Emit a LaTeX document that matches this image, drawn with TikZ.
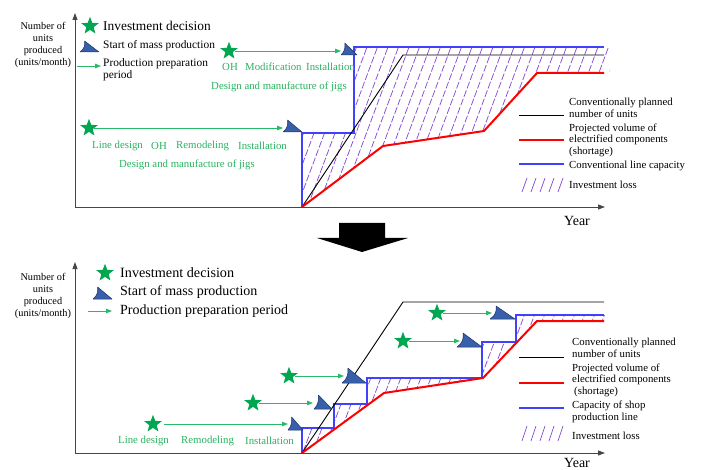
\documentclass[tikz,border=0pt]{standalone}
\usepackage{fontspec}
\setmainfont{Liberation Serif}
\usetikzlibrary{arrows.meta,shapes.geometric}
\definecolor{stargreen}{RGB}{0,166,80}
\definecolor{txtgreen}{RGB}{40,178,95}
\definecolor{arrgreen}{RGB}{40,185,105}
\definecolor{capblue}{RGB}{64,64,255}
\definecolor{mkfill}{RGB}{55,95,170}
\definecolor{mkline}{RGB}{30,50,110}
\definecolor{hatchc}{RGB}{135,75,215}
\definecolor{axisc}{RGB}{70,70,70}
\begin{document}
\begin{tikzpicture}[x=1pt,y=-1pt,
  axis/.style={draw=axisc, line width=0.9pt, -{Triangle[length=7pt,width=5pt]}},
  gstar/.style={star, star points=5, star point ratio=2.4, fill=stargreen, minimum size=18.5pt, inner sep=0pt},
  prep/.style={draw=arrgreen, line width=0.8pt, -{Triangle[length=6pt,width=4.5pt]}},
  gtext/.style={text=txtgreen, font=\fontsize{10.8}{13}\selectfont, anchor=west, inner sep=0pt},
  legtext/.style={font=\fontsize{10.8}{11.6}\selectfont, anchor=west, align=left, inner sep=0pt},
  ylab/.style={font=\fontsize{10.3}{12}\selectfont, align=center, inner sep=0pt},
  yeartext/.style={font=\fontsize{14}{16}\selectfont, inner sep=0pt},
  capline/.style={draw=capblue, line width=1.3pt},
  planline/.style={draw=black, line width=0.9pt},
  volline/.style={draw=red, line width=2pt},
  hatchline/.style={draw=hatchc, line width=0.75pt, dash pattern=on 7pt off 2pt},
  mkstyle/.style={fill=mkfill, draw=mkline, line width=0.5pt, line join=round},
  pics/mpm/.style 2 args={code={
    \filldraw[mkstyle] (0,0) .. controls (0.22*#1,-0.25*#2) and (0.28*#1,-0.65*#2) .. (0.24*#1,-#2) -- (#1,0) -- cycle;}}
]
\useasboundingbox (0,0) rectangle (706,470);

%================ TOP CHART =================
\begin{scope}
  \clip (302,207) -- (302,133) -- (354,133) -- (354,47) -- (610,47) -- (610,73) -- (537,73) -- (484,131) -- (383,146) -- cycle;
  \foreach \k in {0,...,46} {
    \draw[hatchline] (210+\k*10.5,215) -- ++(80,-215);
  }
\end{scope}
\draw[capline] (302,207) -- (302,133) -- (354,133) -- (354,47) -- (604,47);
\draw[planline] (302,207) -- (403,55) -- (604,55);
\draw[volline, line join=round] (302,207) -- (383,146) -- (484,131) -- (537,73) -- (604,73);
\coordinate (O1) at (75,207);
\coordinate (Y1) at (75,13);
\coordinate (X1) at (605,207);
\draw[axis] (O1) -- (Y1);
\draw[axis] (O1) -- (X1);
\node[yeartext] (year1) at (577,221) {Year};
\node[ylab] (ylab1) at (43,45) {Number of\\units\\produced\\(units/month)};

% legend (left)
\node[gstar] (ls1) at (90,26) {};
\node[legtext, font=\fontsize{13.4}{15}\selectfont] (lt1) at (103,26) {Investment decision};
\pic at (80,52) {mpm={19}{11}};
\node[legtext, font=\fontsize{11.4}{13}\selectfont] (lt2) at (103,46) {Start of mass production};
\coordinate (la1) at (77,66);
\coordinate (la2) at (101,66);
\draw[prep] (la1) -- (la2);
\node[legtext, font=\fontsize{11.4}{12}\selectfont] (lt3) at (103,70) {Production preparation\\period};

% upper investment
\node[gstar] (s2) at (229,51) {};
\coordinate (m2) at (341,51);
\draw[prep] (s2) -- (m2);
\pic at (341,55) {mpm={16}{12}};
\node[gtext] (g21) at (222,67) {OH};
\node[gtext] (g22) at (245,67) {Modification};
\node[gtext] (g23) at (306,67) {Installation};
\node[gtext] (g24) at (211,87) {Design and manufacture of jigs};

% lower investment
\node[gstar] (s1) at (89,128) {};
\coordinate (m1) at (283,128);
\draw[prep] (s1) -- (m1);
\pic at (283,132) {mpm={19}{12}};
\node[gtext] (g11) at (92,146) {Line design};
\node[gtext] (g12) at (151,146) {OH};
\node[gtext] (g13) at (176,146) {Remodeling};
\node[gtext] (g14) at (238,146) {Installation};
\node[gtext] (g15) at (119,165) {Design and manufacture of jigs};

% legend (right)
\draw[planline] (519,115) -- (564,115);
\node[legtext] (r1) at (569,108) {Conventionally planned\\number of units};
\draw[draw=red, line width=1.3pt] (519,140) -- (564,140);
\node[legtext] (r2) at (569,140) {Projected volume of\\electrified components\\(shortage)};
\draw[capline] (519,164) -- (564,164);
\node[legtext] (r3) at (569,166) {Conventional line capacity};
\foreach \k in {0,...,4} {\draw[draw=hatchc, line width=0.75pt] (522+\k*9,192) -- ++(5,-14);}
\node[legtext] (r4) at (569,185) {Investment loss};

%================ BIG ARROW =================
\fill[black] (339,223) -- (385,223) -- (385,238) -- (408,238) -- (362,252) -- (317,238) -- (339,238) -- cycle;

%================ BOTTOM CHART =================
\begin{scope}
  \clip (302,453) -- (302,428) -- (334,428) -- (334,404) -- (367,404) -- (367,378) -- (482,378) -- (482,342) -- (516,342) -- (516,315) -- (606,315) -- (606,321) -- (537,321) -- (483,378) -- (384,393) -- cycle;
  \foreach \k in {0,...,40} {
    \draw[hatchline] (240+\k*10,460) -- ++(62,-165);
  }
\end{scope}
\draw[capline] (302,453) -- (302,428) -- (334,428) -- (334,404) -- (367,404) -- (367,378) -- (482,378) -- (482,342) -- (516,342) -- (516,315) -- (604,315);
\draw[planline] (302,453) -- (403,302) -- (604,302);
\draw[volline, line join=round] (302,453) -- (384,393) -- (483,378) -- (537,321) -- (604,321);

\coordinate (O2) at (75,453);
\coordinate (Y2) at (75,262);
\coordinate (X2) at (605,453);
\draw[axis] (O2) -- (Y2);
\draw[axis] (O2) -- (X2);
\node[yeartext] (year2) at (577,463) {Year};
\node[ylab] (ylab2) at (43,296) {Number of\\units\\produced\\(units/month)};

% legend (left)
\node[gstar] (bl1) at (105,273) {};
\node[legtext, font=\fontsize{14.2}{16}\selectfont] (bt1) at (120,273) {Investment decision};
\pic at (93,299) {mpm={19}{12}};
\node[legtext, font=\fontsize{14}{16}\selectfont] (bt2) at (120,292) {Start of mass production};
\coordinate (bla1) at (88,311);
\coordinate (bla2) at (112,311);
\draw[prep] (bla1) -- (bla2);
\node[legtext, font=\fontsize{14}{16}\selectfont] (bt3) at (120,311) {Production preparation period};

% investments
\node[gstar] (b1) at (153,424) {};
\coordinate (bm1) at (288,424);
\draw[prep, shorten <=5pt] (b1) -- (bm1);
\pic at (288,430) {mpm={15}{13}};

\node[gstar] (b2) at (253,403) {};
\coordinate (bm2) at (313,403);
\draw[prep] (b2) -- (bm2);
\pic at (314,409) {mpm={18}{14}};

\node[gstar] (b3) at (289,376) {};
\coordinate (bm3) at (344,376);
\draw[prep] (b3) -- (bm3);
\pic at (342,383) {mpm={24}{15}};

\node[gstar] (b4) at (403,341) {};
\coordinate (bm4) at (460,341);
\draw[prep] (b4) -- (bm4);
\pic at (457,347) {mpm={25}{14}};

\node[gstar] (b5) at (437,313) {};
\coordinate (bm5) at (492,313);
\draw[prep] (b5) -- (bm5);
\pic at (490,319) {mpm={25}{13}};

\node[gtext] (bg1) at (118,441) {Line design};
\node[gtext] (bg2) at (181,441) {Remodeling};
\node[gtext] (bg3) at (245,441) {Installation};

% legend (right)
\draw[planline] (519,357) -- (564,357);
\node[legtext] (br1) at (572,348) {Conventionally planned\\number of units};
\draw[draw=red, line width=1.3pt] (519,383) -- (564,383);
\node[legtext] (br2) at (572,380) {Projected volume of\\electrified components\\\hspace*{2pt}(shortage)};
\draw[capline] (519,408) -- (564,408);
\node[legtext] (br3) at (572,412) {Capacity of shop\\production line};
\foreach \k in {0,...,4} {\draw[draw=hatchc, line width=0.75pt] (522+\k*9,441) -- ++(5,-15);}
\node[legtext] (br4) at (572,436) {Investment loss};
\end{tikzpicture}
\end{document}
